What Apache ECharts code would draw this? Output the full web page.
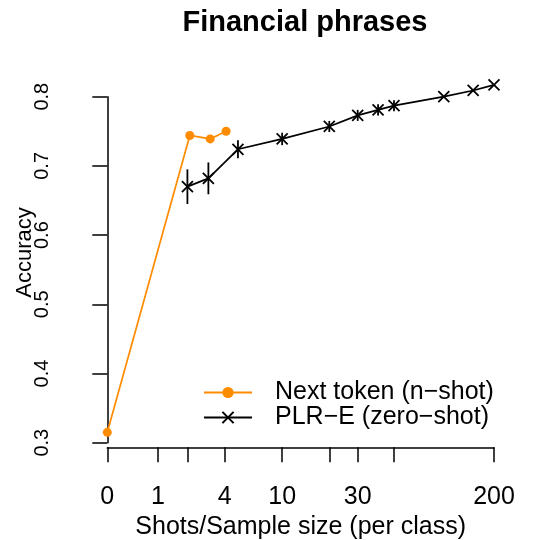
<!DOCTYPE html>
<html>
<head>
<meta charset="utf-8">
<script src="https://cdn.jsdelivr.net/npm/echarts@6/dist/echarts.min.js"></script>
<style>
  html, body { margin: 0; padding: 0; background: #fff; }
  #box { width: 540px; height: 540px; }
</style>
</head>
<body>
<div id="box"></div>
<script>
  const tokenShots = [0, 2.1, 3.1, 4.1];
  const tokenAcc = [0.315, 0.744, 0.739, 0.750];

  const plrShots = [2, 3, 5, 10, 20, 30, 40, 50, 100, 150, 200];
  const plrAcc = [0.670, 0.682, 0.724, 0.739, 0.757, 0.773, 0.781, 0.787, 0.800, 0.809, 0.817];
  const plrErr = [0.025, 0.023, 0.013, 0.009, 0.008, 0.008, 0.008, 0.008, 0, 0, 0];

  const xTicks = [0, 1, 2, 4, 10, 20, 30, 50, 200];
  const xLabels = [0, 1, 4, 10, 30, 200];
  const yTicks = [0.3, 0.4, 0.5, 0.6, 0.7, 0.8];

  const font = 'Liberation Sans, Arial, Helvetica, sans-serif';
  const tx = (n) => Math.log1p(n);

  const chart = echarts.init(document.getElementById('box'));
  chart.setOption({
    animation: false,
    backgroundColor: '#fff',
    title: {
      text: 'Financial phrases',
      left: 300,
      top: 3,
      textAlign: 'center',
      textStyle: { fontFamily: font, fontSize: 29, fontWeight: 'bold', color: '#000' },
    },
    grid: { left: 107.3, right: 46, top: 96.7, bottom: 97.3, outerBoundsMode: 'none', containLabel: false },
    xAxis: {
      type: 'value',
      min: 0,
      max: tx(200),
      offset: 4.6,
      splitLine: { show: false },
      axisLine: { show: true, onZero: false, lineStyle: { color: '#000', width: 1.5 } },
      axisTick: {
        show: true, inside: false, length: 15,
        customValues: xTicks.map(tx),
        lineStyle: { color: '#000', width: 1.5 },
      },
      axisLabel: {
        customValues: xLabels.map(tx),
        formatter: (v) => String(Math.round(Math.expm1(v))),
        margin: 37,
        fontFamily: font, fontSize: 25, color: '#000',
      },
      name: 'Shots/Sample size (per class)',
      nameLocation: 'middle',
      nameGap: 57,
      nameTextStyle: { fontFamily: font, fontSize: 25, color: '#000' },
    },
    yAxis: {
      type: 'value',
      min: 0.3,
      max: 0.8,
      interval: 0.1,
      offset: 15,
      splitLine: { show: false },
      axisLine: { show: true, lineStyle: { color: '#000', width: 1.5 } },
      axisTick: { show: true, inside: false, length: 15, lineStyle: { color: '#000', width: 1.5 } },
      axisLabel: {
        customValues: yTicks,
        rotate: 90,
        margin: 40,
        formatter: (v) => v.toFixed(1),
        fontFamily: font, fontSize: 20, color: '#000',
      },
    },
    legend: {
      orient: 'vertical',
      left: 203,
      top: 380,
      padding: 0,
      itemWidth: 48,
      itemHeight: 14,
      itemGap: 0,
      textStyle: { fontFamily: font, fontSize: 25, lineHeight: 25, color: '#000', padding: [0, 0, 0, 18] },
      data: ['Next token (n\u2212shot)', 'PLR\u2212E (zero\u2212shot)'],
    },
    graphic: [
      {
        type: 'text',
        x: 24.5,
        y: 252.5,
        rotation: Math.PI / 2,
        style: {
          text: 'Accuracy',
          fontFamily: font, fontSize: 22, fill: '#000',
          textAlign: 'center', textVerticalAlign: 'middle',
        },
      },
    ],
    series: [
      {
        name: 'Next token (n\u2212shot)',
        type: 'line',
        clip: false,
        data: tokenShots.map((n, i) => [tx(n), tokenAcc[i]]),
        symbol: 'circle',
        symbolSize: 9,
        lineStyle: { color: '#FF8C00', width: 1.7 },
        itemStyle: { color: '#FF8C00' },
        z: 3,
      },
      {
        name: 'PLR\u2212E (zero\u2212shot)',
        type: 'line',
        clip: false,
        data: plrShots.map((n, i) => [tx(n), plrAcc[i]]),
        symbol: 'path://M0,0L10,10M10,0L0,10',
        symbolSize: 11,
        lineStyle: { color: '#000', width: 1.7 },
        itemStyle: { color: 'none', borderColor: '#000', borderWidth: 1.8 },
        z: 4,
      },
      {
        type: 'custom',
        clip: false,
        silent: true,
        data: plrShots.map((n, i) => [tx(n), plrAcc[i] - plrErr[i], plrAcc[i] + plrErr[i]]),
        encode: { x: 0, y: [1, 2] },
        renderItem: (params, api) => {
          const lo = api.coord([api.value(0), api.value(1)]);
          const hi = api.coord([api.value(0), api.value(2)]);
          return {
            type: 'line',
            shape: { x1: lo[0], y1: lo[1], x2: hi[0], y2: hi[1] },
            style: { stroke: '#000', lineWidth: 1.8 },
          };
        },
        z: 4,
      },
    ],
  });
</script>
</body>
</html>
